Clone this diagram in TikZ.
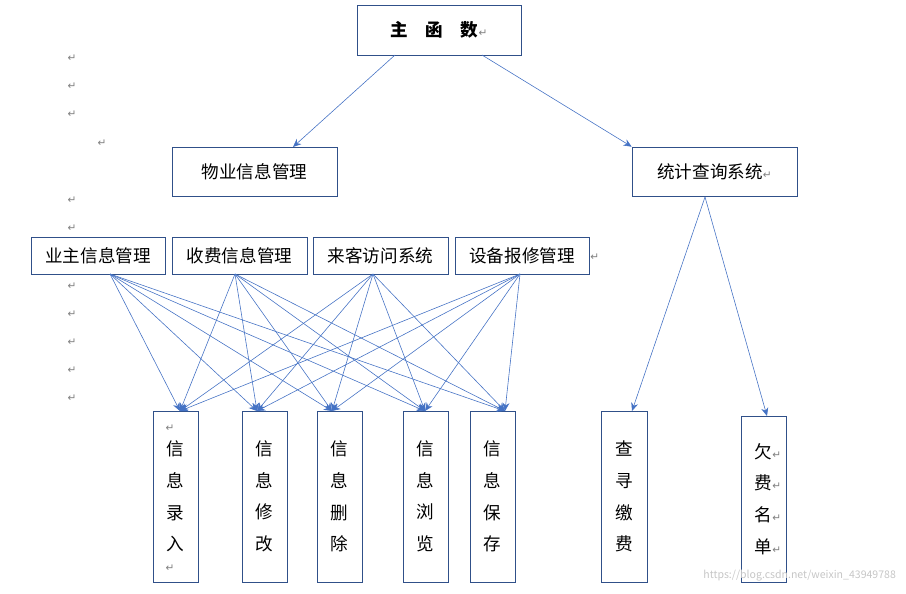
\documentclass[tikz,border=0pt]{standalone}
\usepackage{fontspec}
\setmainfont{Noto Sans CJK SC}
\newfontfamily\retfont{DejaVu Sans}
\usetikzlibrary{arrows,arrows.meta,positioning}
\definecolor{linkblue}{RGB}{68,114,196}
\newcommand{\ret}{{\retfont\color{gray}\fontsize{9}{9}\selectfont ↵}}
\begin{document}
\begin{tikzpicture}[x=0.03cm,y=-0.03cm,
          box/.style={rectangle, draw=linkblue!70!black, line width=0.5pt, inner sep=0pt, align=center, font=\fontsize{15}{18}\selectfont},
          vbox/.style={box, font=\fontsize{15}{27}\selectfont},
          arrow/.style={-{Stealth[length=7pt,width=6pt]}, draw=linkblue, line width=0.5pt}
        ]
          \useasboundingbox (0,0) rectangle (906,593);

          % top levels
          \node[box, minimum width=4.92cm, minimum height=1.5cm] (main) at (439,30) {\textbf{主\quad 函\quad 数}\ret};
          \node[box, minimum width=4.95cm, minimum height=1.47cm] (wuye) at (254.5,171.5) {物业信息管理};
          \node[box, minimum width=4.95cm, minimum height=1.47cm] (tongji) at (714.5,171.5) {统计查询系统\ret};

          % middle row
          \node[box, minimum width=4.02cm, minimum height=1.11cm] (yezhu) at (98,255.5) {业主信息管理};
          \node[box, minimum width=4.05cm, minimum height=1.11cm] (shoufei) at (239.5,255.5) {收费信息管理};
          \node[box, minimum width=4.05cm, minimum height=1.11cm] (laike) at (380.5,255.5) {来客访问系统};
          \node[box, minimum width=4.02cm, minimum height=1.11cm] (shebei) at (522,255.5) {设备报修管理};
          \node[right, inner sep=1pt] at (589,257) {\ret};

          % bottom row
          \node[vbox, minimum width=1.35cm, minimum height=5.13cm] (luru) at (175.5,496.5) {信\\息\\录\\入};
          \node[vbox, minimum width=1.35cm, minimum height=5.13cm] (xiugai) at (264.5,496.5) {信\\息\\修\\改};
          \node[vbox, minimum width=1.35cm, minimum height=5.13cm] (shanchu) at (339.5,496.5) {信\\息\\删\\除};
          \node[vbox, minimum width=1.35cm, minimum height=5.13cm] (liulan) at (425.5,496.5) {信\\息\\浏\\览};
          \node[vbox, minimum width=1.35cm, minimum height=5.13cm] (baocun) at (492.5,496.5) {信\\息\\保\\存};
          \node[vbox, minimum width=1.38cm, minimum height=5.13cm] (chaxun) at (624,496.5) {查\\寻\\缴\\费};
          \node[vbox, minimum width=1.35cm, minimum height=4.98cm] (qianfei) at (763.5,499) {\hphantom{\ret}欠\ret\\\hphantom{\ret}费\ret\\\hphantom{\ret}名\ret\\\hphantom{\ret}单\ret};
          \node[inner sep=0pt] at (170,428) {\ret};
          \node[inner sep=0pt] at (170,568) {\ret};

          % stray paragraph marks
          \foreach \yy in {58,86,114,200,228,286,314,342,370,398}
            \node[inner sep=0pt] at (72,\yy) {\ret};
          \node[inner sep=0pt] at (102,143) {\ret};

          % arrows
          \draw[arrow] (395,55) -- (293,147);
          \draw[arrow] (482,55) -- (tongji.north west);
          \draw[arrow] (705,197) -- (632,411);
          \draw[arrow] (705,197) -- (767,416);
          \foreach \sx in {110,235,373,520}
            \foreach \ex in {180,257,332,425,505}
              \draw[arrow] (\sx,274) -- (\ex,411);

          % watermark
          \node[text=gray!45, font=\fontsize{9}{9}\selectfont, anchor=south east] at (900,585) {https://blog.csdn.net/weixin\_43949788};
        \end{tikzpicture}
\end{document}
